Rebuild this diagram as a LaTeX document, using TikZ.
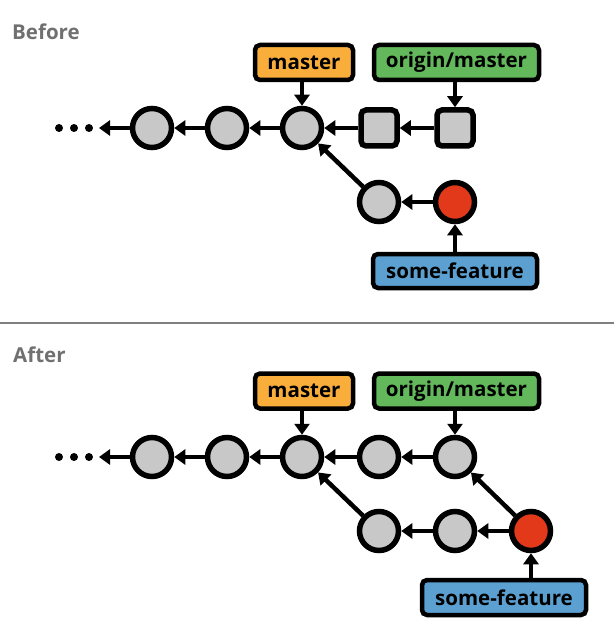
\documentclass[tikz,border=0pt]{standalone}
\usepackage{fontspec}
\setmainfont{Open Sans}
\usetikzlibrary{arrows.meta}
\definecolor{cgray}{HTML}{C8C8C8}
\definecolor{corange}{HTML}{F9AE3B}
\definecolor{cgreen}{HTML}{62B85A}
\definecolor{cblue}{HTML}{5BA0D0}
\definecolor{cred}{HTML}{E3391B}
\definecolor{chead}{HTML}{707070}
\definecolor{csep}{HTML}{808080}
\tikzset{
  commit/.style={circle, draw=black, line width=5.5bp, fill=cgray, minimum size=39bp, inner sep=0pt},
  redcommit/.style={commit, fill=cred},
  sqcommit/.style={rectangle, rounded corners=5bp, draw=black, line width=5.5bp, fill=cgray, minimum size=36bp, inner sep=0pt},
  ref/.style={rectangle, rounded corners=5bp, draw=black, line width=4.5bp, minimum height=35bp, inner sep=0pt,
    font=\fontsize{20.5bp}{24bp}\selectfont\bfseries, text=black},
  heading/.style={anchor=base west, inner sep=0pt, text=chead, font=\fontsize{20.5bp}{24bp}\selectfont\bfseries},
  arr/.style={line width=4.5bp, -{Triangle[length=11bp,width=15bp]}},
  dot/.style={circle, fill=black, minimum size=8bp, inner sep=0pt},
}
\begin{document}
\begin{tikzpicture}[x=1bp,y=-1bp]
\useasboundingbox (0,0) rectangle (614,644);
% ---------- Before ----------
\node[heading] (hbefore) at (12,40) {Before};
\node[commit] (b1) at (152,128) {};
\node[commit] (b2) at (227,128) {};
\node[commit] (b3) at (302,128) {};
\node[sqcommit] (bs1) at (379,128) {};
\node[sqcommit] (bs2) at (455,128) {};
\node[commit] (bl1) at (379,202) {};
\node[redcommit] (bred) at (455,202) {};
\node[dot] (bd1) at (59,128) {};
\node[dot] (bd2) at (74,128) {};
\node[dot] (bd3) at (89,128) {};
\coordinate (bdend) at (99,128);
\node[ref, fill=corange, minimum width=98bp] (bmaster) at (304,62.5) {master};
\node[ref, fill=cgreen, minimum width=165bp] (borigin) at (456.5,62.5) {origin/master};
\node[ref, fill=cblue, minimum width=164bp, minimum height=34bp] (bfeat) at (455,271) {some-feature};
\draw[arr] (b1) -- (bdend);
\draw[arr] (b2) -- (b1);
\draw[arr] (b3) -- (b2);
\draw[arr] (bs1) -- (b3);
\draw[arr] (bs2) -- (bs1);
\draw[arr] (bl1) -- (b3);
\draw[arr] (bred) -- (bl1);
\draw[arr] (bmaster.south -| b3) -- (b3);
\draw[arr] (borigin.south -| bs2) -- (bs2);
\draw[arr] (bfeat.north -| bred) -- (bred);
% ---------- separator ----------
\coordinate (sepL) at (0,322.5);
\coordinate (sepR) at (614,322.5);
\draw[csep, line width=2bp] (sepL) -- (sepR);
% ---------- After ----------
\node[heading] (hafter) at (13,362) {After};
\node[commit] (a1) at (152,457) {};
\node[commit] (a2) at (227,457) {};
\node[commit] (a3) at (302,457) {};
\node[commit] (a4) at (379,457) {};
\node[commit] (a5) at (455,457) {};
\node[commit] (al1) at (379,531) {};
\node[commit] (al2) at (455,531) {};
\node[redcommit] (ared) at (531,531) {};
\node[dot] (ad1) at (59,457) {};
\node[dot] (ad2) at (74,457) {};
\node[dot] (ad3) at (89,457) {};
\coordinate (adend) at (99,457);
\node[ref, fill=corange, minimum width=98bp] (amaster) at (304,391) {master};
\node[ref, fill=cgreen, minimum width=165bp] (aorigin) at (456.5,391) {origin/master};
\node[ref, fill=cblue, minimum width=164bp] (afeat) at (504,597.5) {some-feature};
\draw[arr] (a1) -- (adend);
\draw[arr] (a2) -- (a1);
\draw[arr] (a3) -- (a2);
\draw[arr] (a4) -- (a3);
\draw[arr] (a5) -- (a4);
\draw[arr] (al1) -- (a3);
\draw[arr] (al2) -- (al1);
\draw[arr] (ared) -- (al2);
\draw[arr] (ared) -- (a5);
\draw[arr] (amaster.south -| a3) -- (a3);
\draw[arr] (aorigin.south -| a5) -- (a5);
\draw[arr] (afeat.north -| ared) -- (ared);
\end{tikzpicture}
\end{document}
